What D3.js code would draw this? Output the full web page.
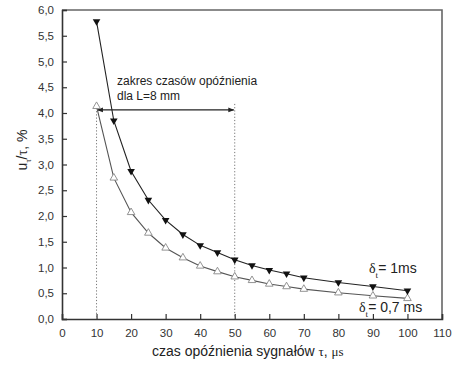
<!DOCTYPE html>
<html>
<head>
<meta charset="utf-8">
<script src="https://cdn.jsdelivr.net/npm/d3@7"></script>
<style>
  body { margin: 0; background: #fff; }
  svg { display: block; font-family: "Liberation Sans", Arial, sans-serif; }
</style>
</head>
<body>
<div id="chart"></div>
<script>
'use strict';

// delay times (µs) and u/τ values (%)
var tau = [10, 15, 20, 25, 30, 35, 40, 45, 50, 55, 60, 65, 70, 80, 90, 100];
var delta1ms = [5.78, 3.85, 2.87, 2.31, 1.92, 1.64, 1.43, 1.29, 1.15, 1.04, 0.95, 0.88, 0.80, 0.71, 0.63, 0.55];
var delta07ms = [4.13, 2.74, 2.07, 1.67, 1.38, 1.19, 1.03, 0.92, 0.82, 0.75, 0.68, 0.63, 0.58, 0.51, 0.45, 0.40];
var xTicks = [0, 10, 20, 30, 40, 50, 60, 70, 80, 90, 100, 110];
var yTicks = [0, 0.5, 1, 1.5, 2, 2.5, 3, 3.5, 4, 4.5, 5, 5.5, 6];
var rangeStart = 10, rangeEnd = 50, rangeLevel = 4.06;

var width = 454, height = 368;
var plotLeft = 62, plotRight = 442, plotTop = 10, plotBottom = 319;

var svg = d3.select("#chart").append("svg")
    .attr("width", width)
    .attr("height", height);

var x = d3.scaleLinear().domain([0, 110]).range([plotLeft, plotRight]);
var y = d3.scaleLinear().domain([0, 6]).range([plotBottom, plotTop]);

// frame (top and right)
svg.append("path")
    .attr("d", "M" + plotLeft + "," + plotTop + "H" + plotRight + "V" + plotBottom)
    .attr("fill", "none")
    .attr("stroke", "#666")
    .attr("stroke-width", 1.6);

var fmt = function(d) { return d3.format(".1f")(d).replace(".", ","); };

var xAxis = svg.append("g")
    .attr("transform", "translate(0," + plotBottom + ")")
    .call(d3.axisBottom(x).tickValues(xTicks).tickSize(-5).tickPadding(10).tickFormat(d3.format("d")));
var yAxis = svg.append("g")
    .attr("transform", "translate(" + plotLeft + ",0)")
    .call(d3.axisLeft(y).tickValues(yTicks).tickSize(-5).tickPadding(8).tickFormat(fmt));

[xAxis, yAxis].forEach(function(a) {
    a.select(".domain").attr("stroke", "#333").attr("stroke-width", 1.6);
    a.selectAll(".tick line").attr("stroke", "#333").attr("stroke-width", 1.2);
    a.selectAll(".tick text").attr("fill", "#333").attr("font-size", 11.5)
        .attr("font-family", "\"Liberation Sans\", Arial, sans-serif");
});

// delay range markers
svg.selectAll("line.range")
    .data([rangeStart, rangeEnd])
    .enter().append("line")
    .attr("class", "range")
    .attr("x1", function(d) { return x(d); })
    .attr("x2", function(d) { return x(d); })
    .attr("y1", function(d, i) { return i == 0 ? y(rangeLevel) - 2 : y(rangeLevel) - 6; })
    .attr("y2", plotBottom - 2)
    .attr("stroke", "#777")
    .attr("stroke-width", 1)
    .attr("stroke-dasharray", "1.2,2");

var defs = svg.append("defs");
defs.append("marker")
    .attr("id", "arr")
    .attr("viewBox", "0 0 10 10")
    .attr("refX", 9).attr("refY", 5)
    .attr("markerWidth", 8).attr("markerHeight", 6)
    .attr("markerUnits", "userSpaceOnUse")
    .attr("orient", "auto-start-reverse")
    .append("path")
    .attr("d", "M0,1 L10,5 L0,9 Z")
    .attr("fill", "#222");

svg.append("line")
    .attr("x1", x(rangeStart) + 1).attr("x2", x(rangeEnd) - 1)
    .attr("y1", y(rangeLevel)).attr("y2", y(rangeLevel))
    .attr("stroke", "#222")
    .attr("stroke-width", 1.1)
    .attr("marker-start", "url(#arr)")
    .attr("marker-end", "url(#arr)");

svg.append("text").attr("x", 117).attr("y", 85)
    .attr("font-size", 12).attr("fill", "#222")
    .text("zakres czasów opóźnienia");
svg.append("text").attr("x", 117).attr("y", 100)
    .attr("font-size", 12).attr("fill", "#222")
    .text("dla L=8 mm");

// series lines
var line = function(vals) {
    return d3.line().x(function(d, i) { return x(tau[i]); }).y(function(d) { return y(d); })(vals);
};

svg.append("path").attr("d", line(delta07ms))
    .attr("fill", "none").attr("stroke", "#555").attr("stroke-width", 1.1);
svg.append("path").attr("d", line(delta1ms))
    .attr("fill", "none").attr("stroke", "#222").attr("stroke-width", 1.1);

var tri = d3.symbol().type(d3.symbolTriangle).size(25);

svg.selectAll("path.open")
    .data(delta07ms)
    .enter().append("path")
    .attr("class", "open")
    .attr("d", tri)
    .attr("transform", function(d, i) { return "translate(" + x(tau[i]) + "," + y(d) + ")"; })
    .attr("fill", "#fff")
    .attr("stroke", "#888")
    .attr("stroke-width", 0.9);

svg.selectAll("path.filled")
    .data(delta1ms)
    .enter().append("path")
    .attr("class", "filled")
    .attr("d", tri)
    .attr("transform", function(d, i) { return "translate(" + x(tau[i]) + "," + y(d) + ") rotate(180)"; })
    .attr("fill", "#111");

// series labels
var serif = "\"Liberation Serif\", \"Times New Roman\", serif";
function seriesLabel(px, py, txt) {
    var t = svg.append("text").attr("x", px).attr("y", py)
        .attr("font-size", 14).attr("fill", "#222");
    t.append("tspan").attr("font-family", serif).text("δ");
    t.append("tspan").attr("font-family", serif).attr("font-size", 9).attr("dy", 5).text("t");
    t.append("tspan").attr("dy", -5).text(txt);
}
seriesLabel(369, 273, "= 1ms");
seriesLabel(359, 312, "= 0,7 ms");

// axis titles
var xt = svg.append("text")
    .attr("x", 152).attr("y", 356)
    .attr("font-size", 14).attr("fill", "#222");
xt.append("tspan").text("czas opóźnienia sygnałów ");
xt.append("tspan").attr("font-family", serif).attr("font-size", 13).text("τ");
xt.append("tspan").text(", ");
xt.append("tspan").attr("font-family", serif).attr("font-size", 13).text("μs");

var yt = svg.append("text")
    .attr("transform", "translate(27,150) rotate(-90)")
    .attr("text-anchor", "middle")
    .attr("font-size", 14).attr("fill", "#222");
yt.append("tspan").text("u");
yt.append("tspan").attr("font-family", serif).attr("font-size", 8).attr("dy", 4).text("τ");
yt.append("tspan").attr("dy", -4).text("/");
yt.append("tspan").attr("font-family", serif).text("τ");
yt.append("tspan").text(", %");
</script>
</body>
</html>
